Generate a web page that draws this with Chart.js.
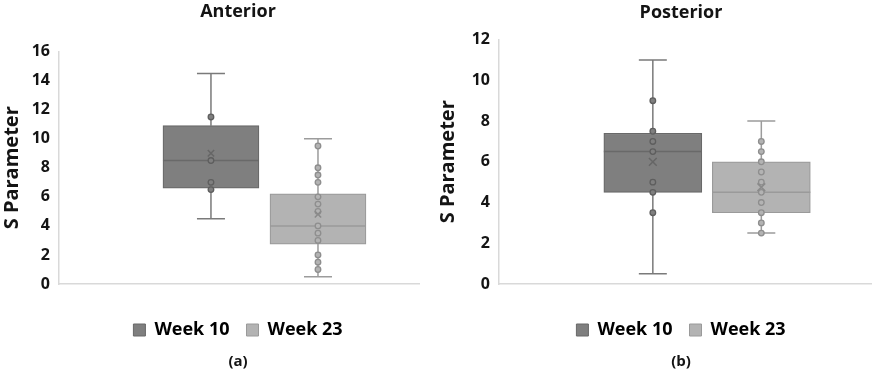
<!DOCTYPE html>
<html>
<head>
    <title>S Parameter - Anterior / Posterior</title>
    <script src="https://cdn.jsdelivr.net/npm/chart.js"></script>
    <style>
        body {
            margin: 0;
            width: 876px;
            height: 375px;
            overflow: hidden;
            background: #ffffff;
            position: relative;
        }
        canvas { position: absolute; top: 0; }
        #anterior-chart { left: 0; }
        #posterior-chart { left: 436px; }
    </style>
</head>
<body>
    <canvas id="anterior-chart" width="476" height="375"></canvas>
    <canvas id="posterior-chart" width="490" height="375"></canvas>

    <script>
        // categories (one box per week)
        const categories = ['Week 10', 'Week 23'];

        // Anterior box plot values
        const antMin = [4.5, 0.5];
        const antQ1 = [6.6, 2.75];
        const antMedian = [8.5, 4];
        const antQ3 = [10.9, 6.2];
        const antMax = [14.5, 10];
        const antMean = [9.0, 4.8];
        const antPointsWeek10 = [11.5, 8.5, 7, 6.5];
        const antPointsWeek23 = [9.5, 8, 7.5, 7, 6, 5.5, 5, 4, 3.5, 3, 2, 1.5, 1];
        const antTicks = [0, 2, 4, 6, 8, 10, 12, 14, 16];

        // Posterior box plot values
        const postMin = [0.5, 2.5];
        const postQ1 = [4.5, 3.5];
        const postMedian = [6.5, 4.5];
        const postQ3 = [7.4, 6.0];
        const postMax = [11, 8];
        const postMean = [6.0, 4.75];
        const postPointsWeek10 = [9, 7.5, 7, 6.5, 5, 4.5, 3.5];
        const postPointsWeek23 = [7, 6.5, 6, 5.5, 5, 4.5, 4, 3.5, 3, 2.5];
        const postTicks = [0, 2, 4, 6, 8, 10, 12];

        const boxFills = ['#7f7f7f', '#b3b3b3'];
        const boxStrokes = ['#696969', '#9a9a9a'];
        const whiskerColors = ['#7a7a7a', '#9c9c9c'];
        const pointStrokes = ['#5e5e5e', '#8e8e8e'];
        const meanColors = ['#666666', '#8a8a8a'];
        const textColor = '#141414';
        const fontFamily = "'Open Sans', 'DejaVu Sans', sans-serif";

        function drawBoxChart(id, o) {
            const pos = categories.map((c, i) => i + 1);

            const datasets = [];
            categories.forEach((c, i) => {
                datasets.push({
                    type: 'bar',
                    label: c,
                    data: [{ x: pos[i], y: [o.q1[i], o.q3[i]] }],
                    backgroundColor: boxFills[i],
                    borderColor: boxStrokes[i],
                    borderWidth: 1.2,
                    borderSkipped: false,
                    barThickness: o.boxWidth,
                    grouped: false,
                    order: 3
                });
            });
            categories.forEach((c, i) => {
                datasets.push({
                    type: 'scatter',
                    label: c + ' points',
                    data: o.points[i].map(v => ({ x: pos[i], y: v })),
                    pointRadius: 2.8,
                    pointBackgroundColor: boxFills[i],
                    pointBorderColor: pointStrokes[i],
                    pointBorderWidth: 1.3,
                    order: 1
                });
            });
            datasets.push({
                type: 'scatter',
                label: 'mean',
                data: o.mean.map((v, i) => ({ x: pos[i], y: v })),
                pointStyle: 'crossRot',
                pointRadius: o.meanSize,
                pointBorderColor: meanColors,
                pointBorderWidth: 1.5,
                order: 0
            });

            // whiskers + caps under everything, median line right after each box
            const boxPlugin = {
                id: 'boxParts',
                beforeDatasetsDraw(chart) {
                    const { ctx, scales: { x, y } } = chart;
                    ctx.save();
                    ctx.lineWidth = 1.5;
                    categories.forEach((c, i) => {
                        const xc = x.getPixelForValue(pos[i]);
                        ctx.strokeStyle = whiskerColors[i];
                        ctx.beginPath();
                        ctx.moveTo(xc, y.getPixelForValue(o.q3[i]));
                        ctx.lineTo(xc, y.getPixelForValue(o.max[i]));
                        ctx.moveTo(xc, y.getPixelForValue(o.q1[i]));
                        ctx.lineTo(xc, y.getPixelForValue(o.min[i]));
                        ctx.moveTo(xc - o.capHalf, y.getPixelForValue(o.max[i]));
                        ctx.lineTo(xc + o.capHalf, y.getPixelForValue(o.max[i]));
                        ctx.moveTo(xc - o.capHalf, y.getPixelForValue(o.min[i]));
                        ctx.lineTo(xc + o.capHalf, y.getPixelForValue(o.min[i]));
                        ctx.stroke();
                    });
                    ctx.restore();
                },
                afterDatasetDraw(chart, args) {
                    if (args.meta.type !== 'bar') return;
                    const i = args.index;
                    const bar = args.meta.data[0];
                    const ym = chart.scales.y.getPixelForValue(o.median[i]);
                    const ctx = chart.ctx;
                    ctx.save();
                    ctx.strokeStyle = boxStrokes[i];
                    ctx.lineWidth = 1.5;
                    ctx.beginPath();
                    ctx.moveTo(bar.x - bar.width / 2, ym);
                    ctx.lineTo(bar.x + bar.width / 2, ym);
                    ctx.stroke();
                    ctx.restore();
                }
            };

            const ctx = document.getElementById(id).getContext('2d');
            return new Chart(ctx, {
                type: 'bar',
                data: { datasets: datasets },
                plugins: [boxPlugin],
                options: {
                    responsive: false,
                    animation: false,
                    events: [],
                    layout: { padding: 0 },
                    scales: {
                        x: {
                            type: 'linear',
                            offset: false,
                            min: o.xMin,
                            max: o.xMax,
                            grid: { display: false, drawTicks: false },
                            ticks: { display: false },
                            border: { color: '#d9d9d9', width: 1.5 },
                            afterFit(s) { s.height = 20; }
                        },
                        y: {
                            min: o.ticks[0],
                            max: o.ticks[o.ticks.length - 1],
                            afterBuildTicks(s) { s.ticks = o.ticks.map(v => ({ value: v })); },
                            grid: { display: false, drawTicks: false },
                            border: { color: '#d9d9d9', width: 1.5 },
                            ticks: {
                                padding: 9,
                                color: textColor,
                                font: { family: fontFamily, size: 16, weight: 'bold' }
                            },
                            title: {
                                display: true,
                                text: 'S Parameter',
                                color: textColor,
                                padding: 0,
                                font: { family: fontFamily, size: 20, weight: 'bold' }
                            },
                            afterFit(s) { s.width = o.axisWidth; }
                        },
                        // empty right gutter so the title and legend stay centred on the canvas
                        gutter: {
                            position: 'right',
                            display: true,
                            grid: { display: false, drawTicks: false },
                            ticks: { display: false },
                            border: { display: false },
                            afterFit(s) { s.width = o.rightGap; }
                        }
                    },
                    plugins: {
                        tooltip: { enabled: false },
                        title: {
                            display: true,
                            text: o.title,
                            color: textColor,
                            font: { family: fontFamily, size: 18, weight: 'bold' },
                            padding: { top: o.titleTop, bottom: o.titleGap }
                        },
                        subtitle: {
                            display: true,
                            position: 'bottom',
                            text: o.tag,
                            color: textColor,
                            font: { family: fontFamily, size: 15, weight: 'bold' },
                            padding: { top: 4, bottom: 4 }
                        },
                        legend: {
                            position: 'bottom',
                            labels: {
                                boxWidth: 12,
                                boxHeight: 12,
                                padding: 17,
                                color: textColor,
                                font: { family: fontFamily, size: 18, weight: 'bold' },
                                generateLabels: () => categories.map((c, i) => ({
                                    text: c,
                                    fillStyle: boxFills[i],
                                    strokeStyle: boxStrokes[i],
                                    lineWidth: 1,
                                    hidden: false,
                                    datasetIndex: i
                                }))
                            }
                        }
                    }
                }
            });
        }

        drawBoxChart('anterior-chart', {
            title: 'Anterior', tag: '(a)',
            min: antMin, q1: antQ1, median: antMedian, q3: antQ3, max: antMax, mean: antMean,
            points: [antPointsWeek10, antPointsWeek23], ticks: antTicks,
            xMin: -0.42, xMax: 2.944, boxWidth: 96, capHalf: 14, meanSize: 4.5,
            axisWidth: 59, rightGap: 57, titleTop: 1, titleGap: 29
        });

        drawBoxChart('posterior-chart', {
            title: 'Posterior', tag: '(b)',
            min: postMin, q1: postQ1, median: postMedian, q3: postQ3, max: postMax, mean: postMean,
            points: [postPointsWeek10, postPointsWeek23], ticks: postTicks,
            xMin: -0.418, xMax: 3.011, boxWidth: 98, capHalf: 14, meanSize: 5.5,
            axisWidth: 63, rightGap: 55, titleTop: 2, titleGap: 16
        });
    </script>
</body>
</html>
